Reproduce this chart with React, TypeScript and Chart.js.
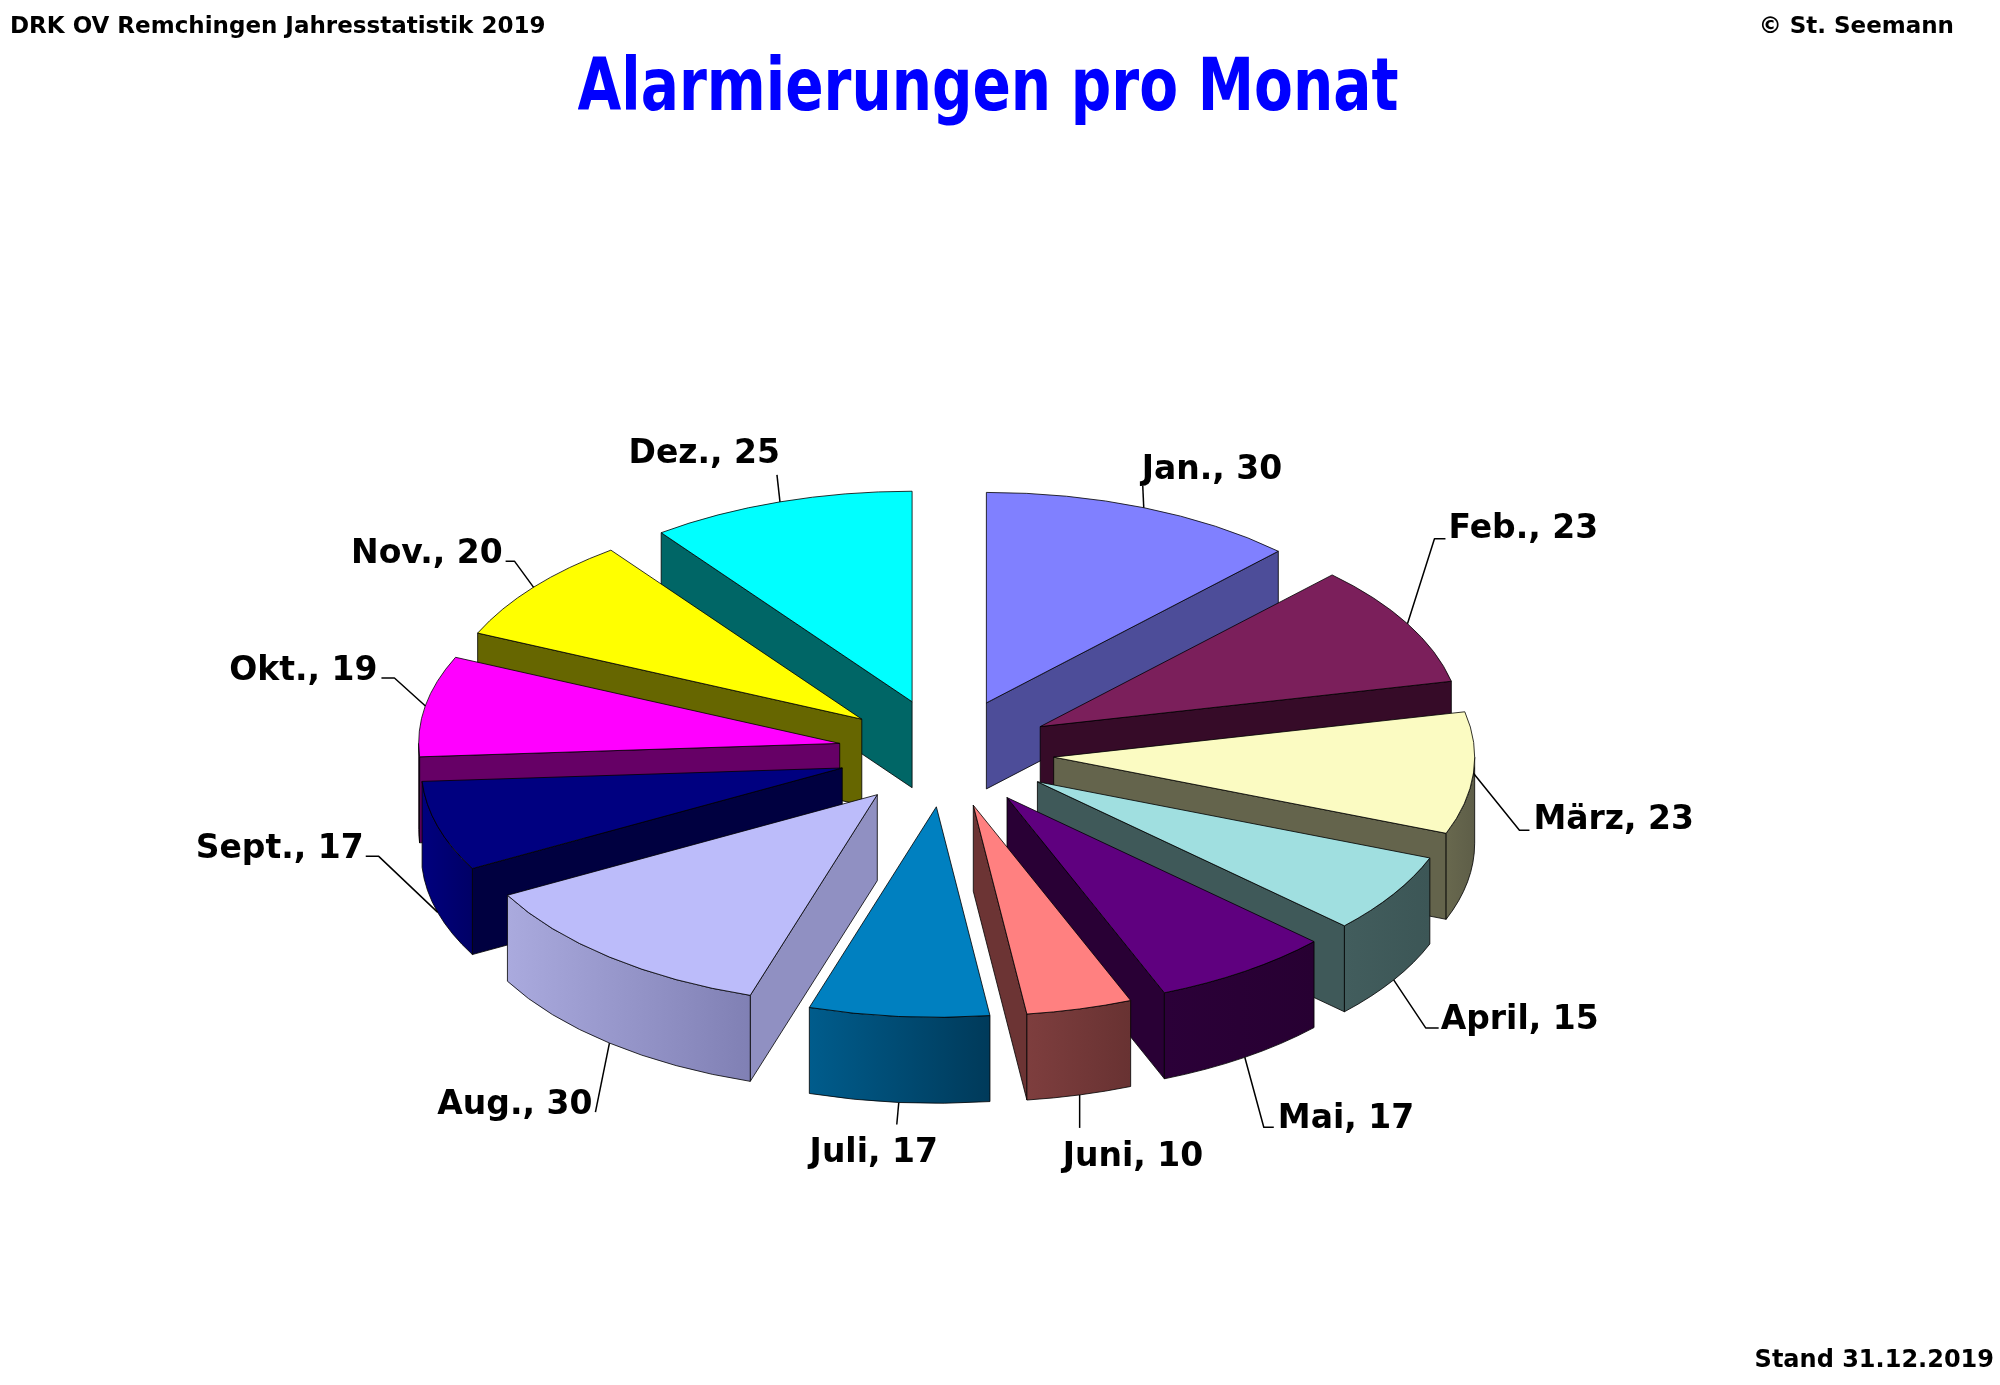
import React, { useEffect, useRef } from 'react';
import { Chart, registerables } from 'chart.js';

Chart.register(...registerables);

// ---- data ----
const months = ['Jan.', 'Feb.', 'März', 'April', 'Mai', 'Juni', 'Juli', 'Aug.', 'Sept.', 'Okt.', 'Nov.', 'Dez.'];
const alarms = [30, 23, 23, 15, 17, 10, 17, 30, 17, 19, 20, 25];

const headerLeft = 'DRK OV Remchingen Jahresstatistik 2019';
const headerRight = '© St. Seemann';
const titleText = 'Alarmierungen pro Monat';
const footerText = 'Stand 31.12.2019';

// ---- styles ----
const topColors = ['#8080FF', '#7B1F5B', '#FBFBC2', '#A0DFE0', '#5F007F', '#FF8080', '#0080C0', '#BCBCFA', '#000080', '#FF00FF', '#FFFF00', '#00FFFF'];
const radialColors = ['#4D4D99', '#360B28', '#64644C', '#3F5959', '#290035', '#6C3434', '#004E78', '#9090C2', '#000040', '#660066', '#666600', '#006666'];
const outerLight = ['#4D4D99', '#360B28', '#68684E', '#425D5D', '#2B0038', '#7E3E3E', '#005C8C', '#AAAADE', '#00007E', '#660066', '#666600', '#006666'];
const outerDark = ['#4D4D99', '#360B28', '#5E5E48', '#3C5656', '#270032', '#683232', '#003A5A', '#8080B4', '#000066', '#660066', '#666600', '#006666'];

// label leader layout (relative to the slice's anchor point)
type Align = 'left' | 'right' | 'center';
const labelLayout: { ex: number; ey: number; tick: number; tx: number; ty: number; align: Align }[] = [
  { ex: -1, ey: -22, tick: 0, tx: -1, ty: -19, align: 'left' },
  { ex: 27, ey: -85, tick: 11, tx: 3, ty: -13, align: 'left' },
  { ex: 46, ey: 57, tick: 10, tx: 4, ty: -13, align: 'left' },
  { ex: 32, ey: 48, tick: 13, tx: 2, ty: -11, align: 'left' },
  { ex: 19, ey: 70, tick: 10, tx: 4, ty: -11, align: 'left' },
  { ex: 0, ey: 33, tick: 0, tx: -17, ty: 26, align: 'left' },
  { ex: -2, ey: 22, tick: 0, tx: -23, ty: 26, align: 'center' },
  { ex: -14, ey: 69, tick: 0, tx: -3, ty: -10, align: 'right' },
  { ex: -59, ey: -56, tick: -13, tx: -2, ty: -10, align: 'right' },
  { ex: -31, ey: -28, tick: -13, tx: -4, ty: -10, align: 'right' },
  { ex: -19, ey: -26, tick: -9, tx: -3, ty: -10, align: 'right' },
  { ex: -3, ey: -27, tick: 0, tx: 3, ty: -24, align: 'right' },
];

const TILT = 0.5;
const EXPLODE = 108;
const DEPTH = 86;
const FONT = '"DejaVu Sans", "Noto Sans", sans-serif';
const EDGE = 'rgba(0,0,0,0.8)';

type G = { x: number; y: number; startAngle: number; endAngle: number; outerRadius: number; mid: number; cx: number; cy: number; i: number; el: any };

const pt = (g: G, a: number, dz = 0) => ({
  x: g.cx + g.outerRadius * Math.cos(a),
  y: g.cy + TILT * g.outerRadius * Math.sin(a) + dz,
});

function radialWall(ctx: CanvasRenderingContext2D, g: G, a: number, color: string) {
  const p = pt(g, a);
  ctx.beginPath();
  ctx.moveTo(g.cx, g.cy);
  ctx.lineTo(p.x, p.y);
  ctx.lineTo(p.x, p.y + DEPTH);
  ctx.lineTo(g.cx, g.cy + DEPTH);
  ctx.closePath();
  ctx.fillStyle = color;
  ctx.fill();
  ctx.stroke();
}

function outerWall(ctx: CanvasRenderingContext2D, g: G) {
  const a1 = Math.max(g.startAngle, 0);
  const a2 = Math.min(g.endAngle, Math.PI);
  if (a2 <= a1) return;
  const R = g.outerRadius;
  ctx.beginPath();
  ctx.ellipse(g.cx, g.cy, R, TILT * R, 0, a1, a2, false);
  ctx.ellipse(g.cx, g.cy + DEPTH, R, TILT * R, 0, a2, a1, true);
  ctx.closePath();
  const xl = g.cx + R * Math.cos(a2);
  const xr = g.cx + R * Math.cos(a1);
  const grad = ctx.createLinearGradient(xl, 0, Math.max(xr, xl + 1), 0);
  grad.addColorStop(0, outerLight[g.i]);
  grad.addColorStop(1, outerDark[g.i]);
  ctx.fillStyle = grad;
  ctx.fill();
  ctx.stroke();
}

const pie3d = {
  id: 'pie3d',
  beforeDatasetsDraw(chart: any) {
    const ctx: CanvasRenderingContext2D = chart.ctx;
    const meta = chart.getDatasetMeta(0);
    const geoms: G[] = meta.data.map((el: any, i: number) => {
      const p = el.getProps(['x', 'y', 'startAngle', 'endAngle', 'outerRadius'], true);
      const mid = (p.startAngle + p.endAngle) / 2;
      return {
        ...p,
        mid,
        cx: p.x + EXPLODE * Math.cos(mid),
        cy: p.y + TILT * EXPLODE * Math.sin(mid),
        i,
        el,
      };
    });
    const order = [...geoms].sort((a, b) => Math.sin(a.mid) - Math.sin(b.mid));
    ctx.save();
    ctx.lineWidth = 1;
    ctx.strokeStyle = EDGE;
    ctx.lineJoin = 'round';
    for (const g of order) {
      // side walls
      if (Math.cos(g.startAngle) < 0) radialWall(ctx, g, g.startAngle, radialColors[g.i]);
      if (Math.cos(g.endAngle) > 0) radialWall(ctx, g, g.endAngle, radialColors[g.i]);
      outerWall(ctx, g);
      // top face via the library's arc element
      ctx.save();
      ctx.translate(g.cx, g.cy);
      ctx.scale(1, TILT);
      ctx.translate(-g.x, -g.y);
      g.el.draw(ctx);
      ctx.restore();
      // outline of top
      const ps = pt(g, g.startAngle);
      ctx.beginPath();
      ctx.moveTo(g.cx, g.cy);
      ctx.lineTo(ps.x, ps.y);
      ctx.ellipse(g.cx, g.cy, g.outerRadius, TILT * g.outerRadius, 0, g.startAngle, g.endAngle, false);
      ctx.closePath();
      ctx.lineWidth = 1;
      ctx.strokeStyle = EDGE;
      ctx.stroke();
    }
    // labels with leader lines
    ctx.font = `bold 33px ${FONT}`;
    ctx.fillStyle = '#000';
    ctx.strokeStyle = '#000';
    ctx.lineWidth = 1.5;
    ctx.textBaseline = 'alphabetic';
    for (const g of geoms) {
      const L = labelLayout[g.i];
      const front = Math.sin(g.mid) > 0.1;
      const a = pt(g, g.mid, front ? DEPTH : 0);
      const ex = a.x + L.ex;
      const ey = a.y + L.ey;
      const endX = ex + L.tick;
      ctx.beginPath();
      ctx.moveTo(a.x, a.y);
      ctx.lineTo(ex, ey);
      if (L.tick !== 0) ctx.lineTo(endX, ey);
      ctx.stroke();
      ctx.textAlign = L.align;
      ctx.fillText(`${months[g.i]}, ${alarms[g.i]}`, endX + L.tx, ey + L.ty + 12);
    }
    ctx.restore();
    return false;
  },
};

const textBase: React.CSSProperties = {
  position: 'absolute',
  fontFamily: FONT,
  fontWeight: 'bold',
  lineHeight: 1,
  whiteSpace: 'nowrap',
  margin: 0,
  color: '#000',
};

export default function App() {
  const ref = useRef<HTMLCanvasElement | null>(null);
  useEffect(() => {
    if (!ref.current) return;
    const chart = new Chart(ref.current, {
      type: 'pie',
      data: {
        labels: months,
        datasets: [
          {
            data: alarms,
            backgroundColor: topColors,
            borderWidth: 0,
            radius: 421,
          } as any,
        ],
      },
      options: {
        animation: false,
        responsive: false,
        devicePixelRatio: 1,
        events: [],
        layout: { padding: { left: 0, right: 108, top: 121, bottom: 0 } },
        plugins: {
          legend: { display: false },
          tooltip: { enabled: false },
          title: { display: false },
        },
      } as any,
      plugins: [pie3d as any],
    });
    return () => chart.destroy();
  }, []);

  return (
    <div style={{ position: 'absolute', left: 0, top: 0, width: 2000, height: 1385, overflow: 'hidden', background: '#fff' }}>
      <canvas ref={ref} width={2000} height={1385} style={{ position: 'absolute', left: 0, top: 0, display: 'block' }} />
      <div style={{ ...textBase, left: 10, top: 14, fontSize: 23 }}>{headerLeft}</div>
      <div style={{ ...textBase, right: 46, top: 14, fontSize: 23 }}>{headerRight}</div>
      <div
        style={{
          ...textBase,
          left: 988,
          top: 48,
          fontSize: 73,
          color: '#0000FF',
          transform: 'translateX(-50%) scaleX(0.775)',
        }}
      >
        {titleText}
      </div>
      <div style={{ ...textBase, right: 6, top: 1347, fontSize: 24 }}>{footerText}</div>
    </div>
  );
}
